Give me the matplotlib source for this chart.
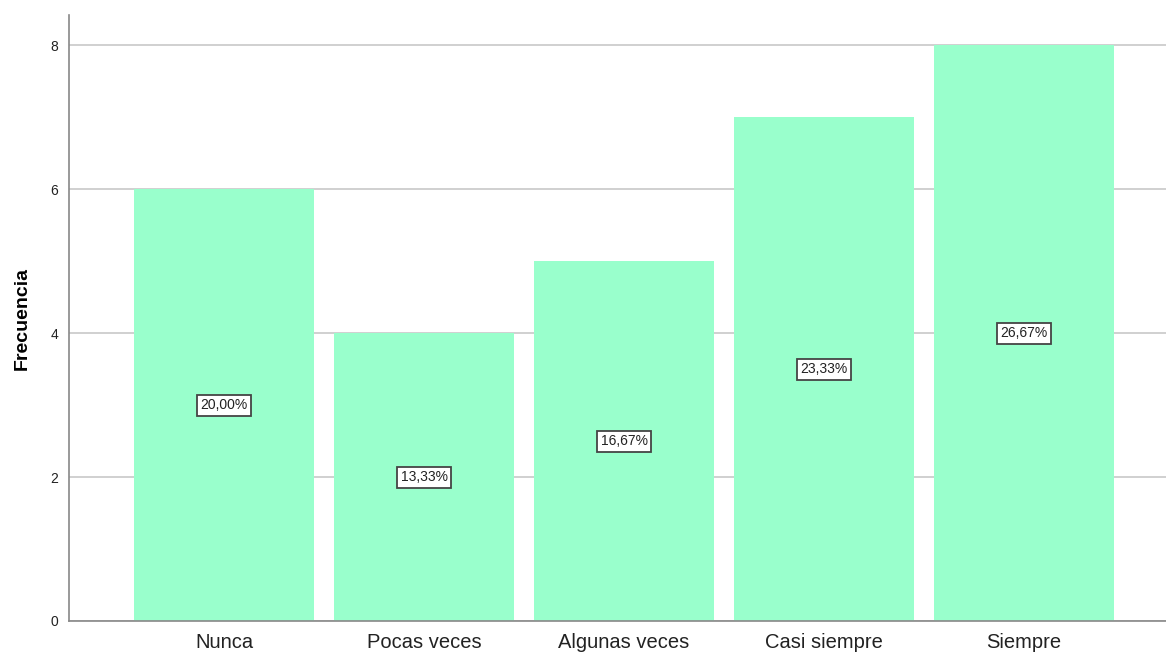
import matplotlib.pyplot as plt

categorias = ['Nunca', 'Pocas veces', 'Algunas veces', 'Casi siempre', 'Siempre']
frecuencias = [6, 4, 5, 7, 8]
porcentajes = ['20,00%', '13,33%', '16,67%', '23,33%', '26,67%']


def main():
    plt.rcParams['font.family'] = ['Liberation Sans', 'DejaVu Sans']
    fig = plt.figure(figsize=(11.66, 6.54), dpi=100)
    ax = fig.add_axes([69 / 1166, 33 / 654, 1097 / 1166, 606 / 654])

    x = range(len(categorias))
    ax.bar(x, frecuencias, width=0.9, color='#99FFCC', zorder=2)

    # etiquetas de porcentaje a media altura
    for xi, f, p in zip(x, frecuencias, porcentajes):
        ax.text(xi, f / 2, p, ha='center', va='center', fontsize=10,
                color='#222222', zorder=3,
                bbox=dict(boxstyle='square,pad=0.25', fc='white',
                          ec='#444444', lw=1.3))

    ax.set_xlim(-0.775, 4.71)
    ax.set_ylim(0, 8.42)
    ax.set_yticks([0, 2, 4, 6, 8])
    ax.set_xticks(list(x))
    ax.set_xticklabels(categorias, fontsize=14.5, color='#222222')
    ax.tick_params(axis='y', labelsize=10, length=0, pad=8, labelcolor='#222222')
    ax.tick_params(axis='x', length=0, pad=9)
    ax.yaxis.grid(True, color='#C8C8C8', lw=1.2, zorder=1)
    ax.set_axisbelow(True)

    for s in ['top', 'right']:
        ax.spines[s].set_visible(False)
    for s in ['left', 'bottom']:
        ax.spines[s].set_color('#888888')
        ax.spines[s].set_linewidth(1.2)

    ax.set_ylabel('Frecuencia', fontsize=14, fontweight='bold', labelpad=14)

    fig.savefig('out.png', dpi=100)


if __name__ == '__main__':
    main()
